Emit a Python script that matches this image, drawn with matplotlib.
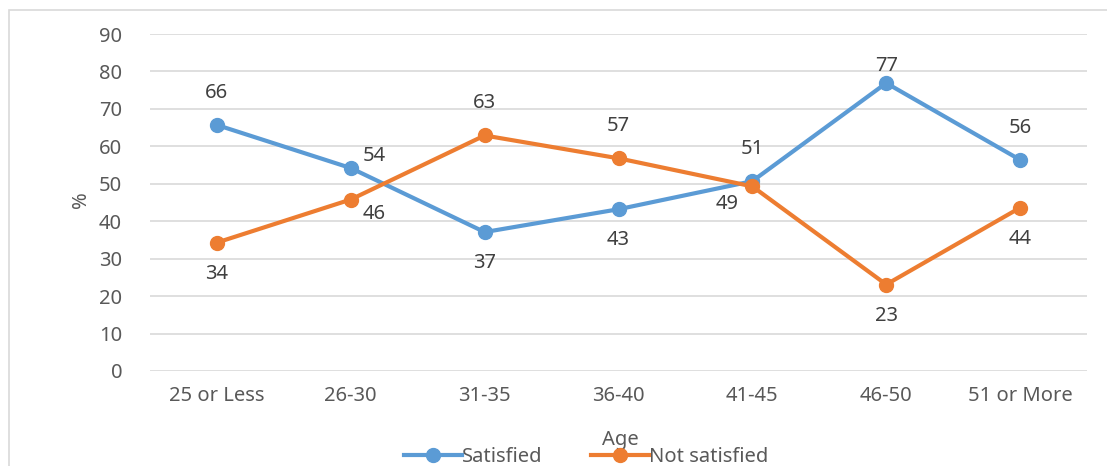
import matplotlib
matplotlib.use("Agg")
import matplotlib.pyplot as plt
from matplotlib.patches import Rectangle

categories = ["25 or Less", "26-30", "31-35", "36-40", "41-45", "46-50", "51 or More"]
satisfied = [65.7, 54.2, 37.1, 43.2, 50.7, 76.9, 56.4]
not_satisfied = [34.3, 45.8, 62.9, 56.8, 49.3, 23.1, 43.6]
y_ticks = [0, 10, 20, 30, 40, 50, 60, 70, 80, 90]

sat_pos = ["above", "right", "below", "below", "above", "abovetight", "above"]
not_pos = ["below", "rightbelow", "above", "above", "left", "below", "below"]

plt.rcParams['font.family'] = ['Noto Sans', 'DejaVu Sans']
W, H = 1107, 466
fig = plt.figure(figsize=(W / 100, H / 100), dpi=100)

BLUE = "#5B9BD5"
ORANGE = "#ED7D31"
TXT = "#595959"
GRID = "#D9D9D9"
FS = 14.5

fig.patches.append(Rectangle((9 / W, -0.2), 1.2, 1 - 10 / H + 0.2, transform=fig.transFigure,
                             fill=False, edgecolor=GRID, linewidth=1.2))

left, right = 150 / W, 1087 / W
top, bottom = 1 - 34 / H, 1 - 371 / H
ax = fig.add_axes([left, bottom, right - left, top - bottom])

x = list(range(len(categories)))
ax.plot(x, satisfied, color=BLUE, lw=3, marker="o", ms=10, label="Satisfied", zorder=3)
ax.plot(x, not_satisfied, color=ORANGE, lw=3, marker="o", ms=10, label="Not satisfied", zorder=3)

ax.set_xlim(-0.5, len(categories) - 0.5)
ax.set_ylim(0, 90)
ax.set_yticks(y_ticks)
ax.set_xticks(x)
ax.set_xticklabels(categories)
ax.grid(axis="y", color=GRID, lw=1.2)
ax.set_axisbelow(True)
for s in ax.spines.values():
    s.set_visible(False)
ax.tick_params(axis="both", length=0, labelsize=FS, colors=TXT)
ax.tick_params(axis="y", pad=20)
ax.tick_params(axis="x", pad=11)

fig.text(81 / W, 1 - 200 / H, "%", rotation=90, ha="center", va="center", fontsize=FS, color=TXT)
fig.text(620 / W, 1 - 440 / H, "Age", ha="center", va="center", fontsize=FS, color=TXT)

offsets = {
    "above": (0, 22, "center", "bottom"),
    "abovetight": (0, 7, "center", "bottom"),
    "below": (0, -21, "center", "top"),
    "right": (12, 2, "left", "bottom"),
    "rightbelow": (12, -4, "left", "top"),
    "left": (-14, -8, "right", "top"),
}

def label(vals, poss):
    for xi, v, p in zip(x, vals, poss):
        dx, dy, ha, va = offsets[p]
        ax.annotate(f"{round(v):d}", (xi, v), xytext=(dx * 0.72, dy * 0.72),
                    textcoords="offset points", ha=ha, va=va, fontsize=FS, color="#404040")

label(satisfied, sat_pos)
label(not_satisfied, not_pos)

leg = fig.legend(loc="center", bbox_to_anchor=(586 / W, 1 - 457 / H), ncol=2, frameon=False,
                 fontsize=FS, handlelength=2.9, columnspacing=2.4, handletextpad=0.0,
                 labelcolor=TXT)

fig.savefig("out.png", dpi=100)
